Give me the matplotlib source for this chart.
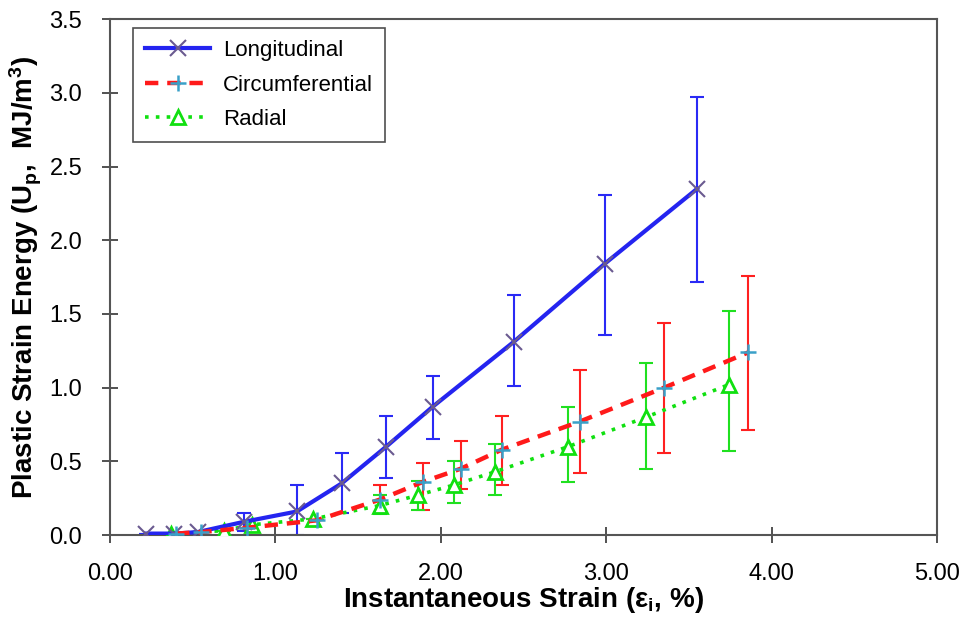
import matplotlib.pyplot as plt

plt.rcParams['font.family'] = ['Liberation Sans', 'DejaVu Sans']

# Longitudinal
long_x = [0.22, 0.39, 0.53, 0.81, 1.13, 1.40, 1.67, 1.95, 2.44, 2.99, 3.55]
long_y = [0.01, 0.01, 0.02, 0.09, 0.16, 0.35, 0.60, 0.87, 1.31, 1.84, 2.35]
long_hi = [0.01, 0.01, 0.02, 0.15, 0.34, 0.56, 0.81, 1.08, 1.63, 2.31, 2.97]
long_lo = [0.01, 0.01, 0.02, 0.03, 0.00, 0.15, 0.39, 0.65, 1.01, 1.36, 1.72]

# Circumferential
circ_x = [0.40, 0.55, 0.83, 1.25, 1.63, 1.89, 2.12, 2.37, 2.84, 3.35, 3.86]
circ_y = [0.01, 0.02, 0.05, 0.10, 0.24, 0.36, 0.45, 0.58, 0.77, 1.00, 1.24]
circ_hi = [0.01, 0.02, 0.05, 0.10, 0.34, 0.49, 0.64, 0.81, 1.12, 1.44, 1.76]
circ_lo = [0.01, 0.02, 0.05, 0.10, 0.15, 0.17, 0.31, 0.34, 0.42, 0.56, 0.71]

# Radial
rad_x = [0.37, 0.69, 0.86, 1.23, 1.63, 1.86, 2.08, 2.33, 2.77, 3.24, 3.74]
rad_y = [0.01, 0.03, 0.07, 0.11, 0.20, 0.27, 0.34, 0.43, 0.60, 0.80, 1.02]
rad_hi = [0.01, 0.03, 0.07, 0.11, 0.27, 0.37, 0.50, 0.62, 0.87, 1.17, 1.52]
rad_lo = [0.01, 0.03, 0.07, 0.11, 0.14, 0.17, 0.22, 0.27, 0.36, 0.45, 0.57]


def yerr(y, hi, lo):
    return [[a - b for a, b in zip(y, lo)], [b - a for a, b in zip(y, hi)]]


fig = plt.figure(figsize=(9.69, 6.2), dpi=100)
ax = fig.add_axes([0.1135, 0.137, 0.8535, 0.832])

ax.errorbar(long_x, long_y, yerr=yerr(long_y, long_hi, long_lo), fmt='none',
            ecolor='#2a2af5', elinewidth=1.5, capsize=5, capthick=1.5, zorder=2)
ax.errorbar(circ_x, circ_y, yerr=yerr(circ_y, circ_hi, circ_lo), fmt='none',
            ecolor='#ff2020', elinewidth=1.5, capsize=5, capthick=1.5, zorder=2)
ax.errorbar(rad_x, rad_y, yerr=yerr(rad_y, rad_hi, rad_lo), fmt='none',
            ecolor='#20e020', elinewidth=1.5, capsize=5, capthick=1.5, zorder=2)

ax.plot(long_x, long_y, color='#2424f0', lw=3, marker='x', ms=12, mew=1.5,
        mec='#6a5a90', label='Longitudinal', zorder=4)
ax.plot(circ_x, circ_y, color='#ff1a1a', lw=3.2, ls=(0, (3, 2)), marker='+', ms=12,
        mew=1.8, mec='#3aa0c8', label='Circumferential', zorder=4)
ax.plot(rad_x, rad_y, color='#10e010', lw=2.6, ls=(0, (1, 2)), marker='^', ms=10,
        mew=2, mec='#10e010', mfc='white', label='Radial', zorder=3)

ax.set_xlim(0, 5)
ax.set_ylim(0, 3.5)
ax.set_xticks([0, 1, 2, 3, 4, 5])
ax.set_xticklabels(['0.00', '1.00', '2.00', '3.00', '4.00', '5.00'])
ax.set_yticks([0, 0.5, 1.0, 1.5, 2.0, 2.5, 3.0, 3.5])
ax.set_yticklabels(['0.0', '0.5', '1.0', '1.5', '2.0', '2.5', '3.0', '3.5'])
ax.tick_params(direction='inout', length=12, width=1.2, labelsize=17, color='#333333')
ax.tick_params(axis='x', pad=14)
ax.tick_params(axis='y', pad=14)
for s in ax.spines.values():
    s.set_color('#555555')
    s.set_linewidth(1.5)

ax.set_xlabel(r'Instantaneous Strain ($\mathregular{\varepsilon_i}$, %)', fontsize=20,
              fontweight='bold', labelpad=0)
ax.set_ylabel(r'Plastic Strain Energy (U$\mathregular{_p}$,  MJ/m$\mathregular{^3}$)',
              fontsize=20, fontweight='bold', labelpad=4)

leg = ax.legend(loc='upper left', bbox_to_anchor=(0.028, 0.983), borderaxespad=0,
                fontsize=16, frameon=True, fancybox=False, edgecolor='#222222',
                handlelength=2.9, borderpad=0.55, labelspacing=0.6, handletextpad=0.6)
leg.get_frame().set_linewidth(1.2)

fig.savefig('out.png', dpi=100)
